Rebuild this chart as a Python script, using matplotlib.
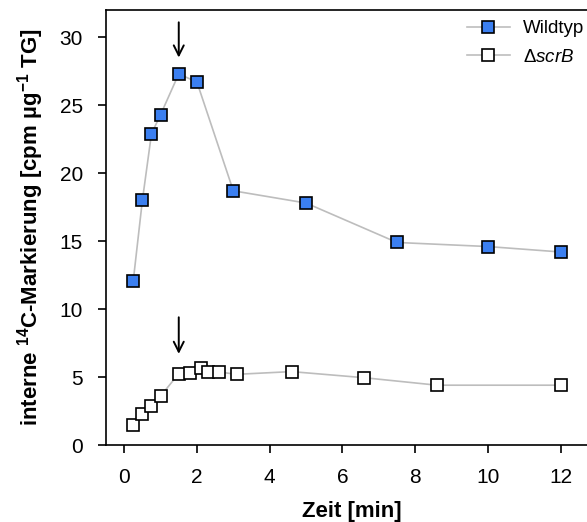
import numpy as np
import matplotlib.pyplot as plt

plt.rcParams['font.family'] = ['Liberation Sans', 'DejaVu Sans']
plt.rcParams['mathtext.fontset'] = 'custom'
plt.rcParams['mathtext.rm'] = 'Liberation Sans'
plt.rcParams['mathtext.it'] = 'Liberation Sans:italic'
plt.rcParams['mathtext.bf'] = 'Liberation Sans:bold'

# Wildtyp
wt_x = [0.25, 0.5, 0.75, 1.0, 1.5, 2.0, 3.0, 5.0, 7.5, 10.0, 12.0]
wt_y = [12.1, 18.0, 22.9, 24.3, 27.3, 26.7, 18.7, 17.8, 14.9, 14.6, 14.2]

# delta scrB
scr_x = [0.25, 0.5, 0.75, 1.0, 1.5, 1.8, 2.1, 2.3, 2.6, 3.1, 4.6, 6.6, 8.6, 12.0]
scr_y = [1.45, 2.25, 2.9, 3.6, 5.25, 5.3, 5.7, 5.35, 5.37, 5.2, 5.4, 4.95, 4.4, 4.4]

fig = plt.figure(figsize=(5.87, 5.22), dpi=100)
# axes runs past the right edge, the original was cropped there
ax = fig.add_axes([0.1806, 0.1475, 0.8365, 0.8333])

ax.plot(wt_x, wt_y, color='#bdbdbd', lw=1.2, marker='s', ms=9,
        mfc='#3b7ff0', mec='black', mew=1.2, label='Wildtyp', zorder=3)
ax.plot(scr_x, scr_y, color='#bdbdbd', lw=1.2, marker='s', ms=9,
        mfc='white', mec='black', mew=1.2, label=r'$\Delta$$\it{scrB}$', zorder=3)

# arrows marking 1.5 min
for tip, tail in [(28.3, 31.3), (6.5, 9.6)]:
    ax.annotate('', xy=(1.5, tip), xytext=(1.5, tail),
                arrowprops=dict(arrowstyle='->', color='black', lw=1.4,
                                mutation_scale=18))

ax.set_xlim(-0.5, 13)
ax.set_ylim(0, 32)
ax.set_xticks([0, 2, 4, 6, 8, 10, 12])
ax.set_yticks([0, 5, 10, 15, 20, 25, 30])
ax.tick_params(direction='out', length=5.5, width=1.2, labelsize=15, pad=11)
for s in ax.spines.values():
    s.set_linewidth(1.2)

ax.set_xlabel('Zeit [min]', fontsize=16, fontweight='bold', labelpad=10)
ax.set_ylabel(r'interne $\mathbf{^{14}}$C-Markierung [cpm µg$\mathbf{^{-1}}$ TG]',
              fontsize=16, fontweight='bold', labelpad=10)

ax.legend(loc='upper left', bbox_to_anchor=(0.70, 1.015), frameon=False,
          fontsize=13.5, handlelength=2.3, handletextpad=0.7, labelspacing=0.6)

fig.savefig('out.png', dpi=100)
